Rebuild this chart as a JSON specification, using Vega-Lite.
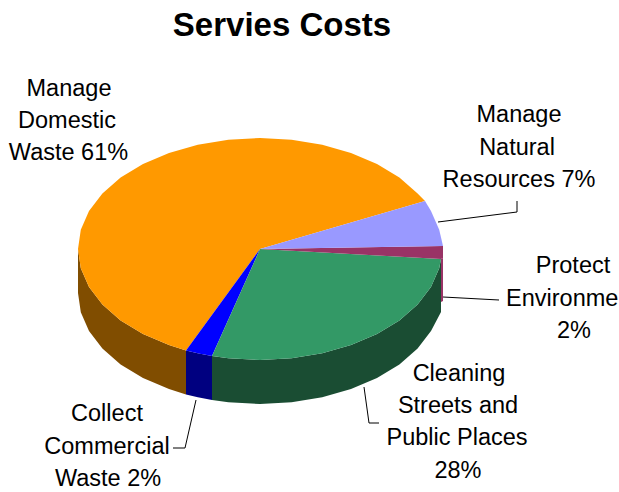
{"$schema":"https://vega.github.io/schema/vega-lite/v6.json","width":619,"height":492,"padding":0,"autosize":"none","background":"white","view":{"stroke":null},
"datasets":{"shapes":[
{"part":"Manage Domestic Waste side","x":78,"y":249},{"part":"Manage Domestic Waste side","x":80.8,"y":268.3},{"part":"Manage Domestic Waste side","x":89,"y":287},{"part":"Manage Domestic Waste side","x":102.4,"y":304.5},{"part":"Manage Domestic Waste side","x":120.6,"y":320.4},{"part":"Manage Domestic Waste side","x":143,"y":334},{"part":"Manage Domestic Waste side","x":169,"y":345.1},{"part":"Manage Domestic Waste side","x":186,"y":350.4},{"part":"Manage Domestic Waste side","x":186,"y":394.4},{"part":"Manage Domestic Waste side","x":169,"y":389.1},{"part":"Manage Domestic Waste side","x":143,"y":378},{"part":"Manage Domestic Waste side","x":120.6,"y":364.4},{"part":"Manage Domestic Waste side","x":102.4,"y":348.5},{"part":"Manage Domestic Waste side","x":89,"y":331},{"part":"Manage Domestic Waste side","x":80.8,"y":312.3},{"part":"Manage Domestic Waste side","x":78,"y":293},
{"part":"Collect Commercial Waste side","x":186,"y":350.4},{"part":"Collect Commercial Waste side","x":197.8,"y":353.3},{"part":"Collect Commercial Waste side","x":212,"y":356},{"part":"Collect Commercial Waste side","x":212,"y":400},{"part":"Collect Commercial Waste side","x":197.8,"y":397.3},{"part":"Collect Commercial Waste side","x":186,"y":394.4},
{"part":"Cleaning Streets side","x":212,"y":356},{"part":"Cleaning Streets side","x":228.4,"y":358.3},{"part":"Cleaning Streets side","x":260,"y":360},{"part":"Cleaning Streets side","x":291.6,"y":358.3},{"part":"Cleaning Streets side","x":322.2,"y":353.3},{"part":"Cleaning Streets side","x":351,"y":345.1},{"part":"Cleaning Streets side","x":377,"y":334},{"part":"Cleaning Streets side","x":399.4,"y":320.4},{"part":"Cleaning Streets side","x":417.6,"y":304.5},{"part":"Cleaning Streets side","x":431,"y":287},{"part":"Cleaning Streets side","x":439.2,"y":268.3},{"part":"Cleaning Streets side","x":441,"y":259},{"part":"Cleaning Streets side","x":441,"y":312},{"part":"Cleaning Streets side","x":431,"y":331},{"part":"Cleaning Streets side","x":417.6,"y":348.5},{"part":"Cleaning Streets side","x":399.4,"y":364.4},{"part":"Cleaning Streets side","x":377,"y":378},{"part":"Cleaning Streets side","x":351,"y":389.1},{"part":"Cleaning Streets side","x":322.2,"y":397.3},{"part":"Cleaning Streets side","x":291.6,"y":402.3},{"part":"Cleaning Streets side","x":260,"y":404},{"part":"Cleaning Streets side","x":228.4,"y":402.3},{"part":"Cleaning Streets side","x":212,"y":400},
{"part":"Protect Environment side","x":441,"y":259},{"part":"Protect Environment side","x":443,"y":258},{"part":"Protect Environment side","x":443,"y":301},{"part":"Protect Environment side","x":441,"y":302},
{"part":"Manage Domestic Waste","x":260,"y":249},{"part":"Manage Domestic Waste","x":425,"y":201},{"part":"Manage Domestic Waste","x":417.6,"y":193.5},{"part":"Manage Domestic Waste","x":399.4,"y":177.6},{"part":"Manage Domestic Waste","x":377,"y":164},{"part":"Manage Domestic Waste","x":351,"y":152.9},{"part":"Manage Domestic Waste","x":322.2,"y":144.7},{"part":"Manage Domestic Waste","x":291.6,"y":139.7},{"part":"Manage Domestic Waste","x":260,"y":138},{"part":"Manage Domestic Waste","x":228.4,"y":139.7},{"part":"Manage Domestic Waste","x":197.8,"y":144.7},{"part":"Manage Domestic Waste","x":169,"y":152.9},{"part":"Manage Domestic Waste","x":143,"y":164},{"part":"Manage Domestic Waste","x":120.6,"y":177.6},{"part":"Manage Domestic Waste","x":102.4,"y":193.5},{"part":"Manage Domestic Waste","x":89,"y":211},{"part":"Manage Domestic Waste","x":80.8,"y":229.7},{"part":"Manage Domestic Waste","x":78,"y":249},{"part":"Manage Domestic Waste","x":80.8,"y":268.3},{"part":"Manage Domestic Waste","x":89,"y":287},{"part":"Manage Domestic Waste","x":102.4,"y":304.5},{"part":"Manage Domestic Waste","x":120.6,"y":320.4},{"part":"Manage Domestic Waste","x":143,"y":334},{"part":"Manage Domestic Waste","x":169,"y":345.1},{"part":"Manage Domestic Waste","x":186,"y":350.4},
{"part":"Collect Commercial Waste","x":260,"y":249},{"part":"Collect Commercial Waste","x":186,"y":350.4},{"part":"Collect Commercial Waste","x":197.8,"y":353.3},{"part":"Collect Commercial Waste","x":212,"y":356},
{"part":"Cleaning Streets","x":260,"y":249},{"part":"Cleaning Streets","x":212,"y":356},{"part":"Cleaning Streets","x":228.4,"y":358.3},{"part":"Cleaning Streets","x":260,"y":360},{"part":"Cleaning Streets","x":291.6,"y":358.3},{"part":"Cleaning Streets","x":322.2,"y":353.3},{"part":"Cleaning Streets","x":351,"y":345.1},{"part":"Cleaning Streets","x":377,"y":334},{"part":"Cleaning Streets","x":399.4,"y":320.4},{"part":"Cleaning Streets","x":417.6,"y":304.5},{"part":"Cleaning Streets","x":431,"y":287},{"part":"Cleaning Streets","x":439.2,"y":268.3},{"part":"Cleaning Streets","x":441,"y":259},
{"part":"Protect Environment","x":260,"y":249},{"part":"Protect Environment","x":441,"y":259},{"part":"Protect Environment","x":443,"y":258},{"part":"Protect Environment","x":443,"y":246},
{"part":"Manage Natural Resources","x":260,"y":249},{"part":"Manage Natural Resources","x":443,"y":246},{"part":"Manage Natural Resources","x":439.2,"y":229.7},{"part":"Manage Natural Resources","x":431,"y":211},{"part":"Manage Natural Resources","x":425,"y":201}
],
"leaders":[
{"label":"Natural","x":438,"y":222},{"label":"Natural","x":517,"y":212},{"label":"Natural","x":517,"y":201},
{"label":"Environment","x":443,"y":297},{"label":"Environment","x":499,"y":300},
{"label":"Streets","x":364,"y":387},{"label":"Streets","x":369,"y":423},{"label":"Streets","x":379,"y":423},
{"label":"Commercial","x":196,"y":400},{"label":"Commercial","x":185,"y":448},{"label":"Commercial","x":173,"y":448}
],
"labels":[
{"t":"Manage","x":69,"y":89},{"t":"Domestic","x":67,"y":121},{"t":"Waste 61%","x":68.5,"y":153},
{"t":"Manage","x":519,"y":115},{"t":"Natural","x":517,"y":148},{"t":"Resources 7%","x":519,"y":180},
{"t":"Protect","x":573,"y":266},{"t":"Environment","x":572,"y":299},{"t":"2%","x":574,"y":331},
{"t":"Cleaning","x":459,"y":374},{"t":"Streets and","x":458,"y":406},{"t":"Public Places","x":457,"y":438},{"t":"28%","x":458,"y":471},
{"t":"Collect","x":107,"y":414},{"t":"Commercial","x":107,"y":447},{"t":"Waste 2%","x":108,"y":479}
],
"heading":[{"t":"Servies Costs","x":282,"y":26}]},
"encoding":{"x":{"field":"x","type":"quantitative","scale":{"domain":[0,619],"nice":false,"zero":false},"axis":null},"y":{"field":"y","type":"quantitative","scale":{"domain":[492,0],"nice":false,"zero":false},"axis":null}},
"layer":[
{"data":{"name":"shapes"},"transform":[{"window":[{"op":"row_number","as":"seq"}]}],"mark":{"type":"line","filled":true,"interpolate":"linear-closed"},
"encoding":{"order":{"field":"seq","type":"quantitative"},
"detail":{"field":"part"},
"color":{"field":"part","type":"nominal","legend":null,"sort":null,"scale":{"domain":["Manage Domestic Waste side","Collect Commercial Waste side","Cleaning Streets side","Protect Environment side","Manage Domestic Waste","Collect Commercial Waste","Cleaning Streets","Protect Environment","Manage Natural Resources"],"range":["#804D00","#000080","#1A4D33","#993366","#FF9900","#0000FF","#339966","#993366","#9999FF"]}}}},
{"data":{"name":"leaders"},"transform":[{"window":[{"op":"row_number","as":"seq"}]}],"mark":{"type":"line","color":"black","strokeWidth":1},
"encoding":{"detail":{"field":"label"},"order":{"field":"seq","type":"quantitative"}}},
{"data":{"name":"labels"},"mark":{"type":"text","font":"Liberation Sans","fontSize":23.5,"color":"black","align":"center","baseline":"middle"},
"encoding":{"text":{"field":"t"}}},
{"data":{"name":"heading"},"mark":{"type":"text","font":"Liberation Sans","fontSize":33,"fontWeight":"bold","color":"black","align":"center","baseline":"middle"},
"encoding":{"text":{"field":"t"}}}
]}
